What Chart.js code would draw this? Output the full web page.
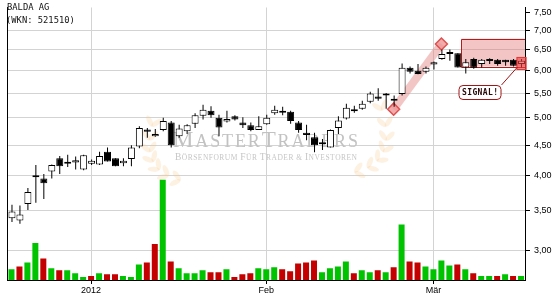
<!DOCTYPE html>
<html>
<head>
<meta charset="utf-8">
<script src="https://cdn.jsdelivr.net/npm/chart.js@4.4.1/dist/chart.umd.min.js"></script>
<style>
  html, body { margin: 0; padding: 0; background: #fff; }
  canvas { display: block; }
</style>
</head>
<body>
<canvas id="chart" width="555" height="300"></canvas>
<script>
// Tageskerzen BALDA AG, Mitte Dez 2011 bis Mitte Mär 2012
const eroeffnung = [3.40, 3.37, 3.59, 4.00, 3.96, 4.07, 4.28, 4.19, 4.21, 4.10, 4.19, 4.18, 4.39, 4.28, 4.20, 4.27,
  4.48, 4.78, 4.66, 4.77, 4.91, 4.66, 4.75, 4.89, 5.04, 5.14, 5.00, 4.93, 5.03, 4.91, 4.86, 4.77,
  4.88, 5.09, 5.14, 5.12, 4.91, 4.72, 4.64, 4.52, 4.46, 4.81, 4.99, 5.16, 5.18, 5.32, 5.43, 5.45,
  5.35, 5.48, 6.06, 5.99, 5.97, 6.14, 6.27, 6.42, 6.41, 6.07, 6.27, 6.15, 6.22, 6.25, 6.25, 6.25, 6.15];
const hoch = [3.58, 3.57, 3.82, 4.17, 4.03, 4.18, 4.32, 4.34, 4.31, 4.34, 4.26, 4.39, 4.46, 4.28, 4.28, 4.50,
  4.84, 4.81, 4.79, 5.00, 4.94, 4.87, 4.88, 5.09, 5.26, 5.23, 5.06, 5.14, 5.05, 5.01, 4.91, 5.03,
  5.06, 5.24, 5.22, 5.14, 4.94, 4.87, 4.72, 4.61, 4.78, 5.03, 5.28, 5.24, 5.34, 5.53, 5.60, 5.50,
  5.45, 6.16, 6.09, 6.15, 6.09, 6.21, 6.50, 6.50, 6.41, 6.27, 6.30, 6.27, 6.29, 6.27, 6.25, 6.27, 6.27];
const tief = [3.35, 3.33, 3.51, 3.61, 3.66, 3.96, 4.03, 4.14, 4.10, 4.09, 4.17, 4.17, 4.23, 4.15, 4.15, 4.15,
  4.45, 4.63, 4.65, 4.75, 4.46, 4.63, 4.70, 4.81, 4.97, 5.00, 4.66, 4.91, 4.95, 4.81, 4.75, 4.77,
  4.87, 5.06, 5.05, 4.89, 4.72, 4.59, 4.38, 4.42, 4.46, 4.70, 4.97, 5.10, 5.16, 5.29, 5.34, 5.18,
  5.22, 5.45, 5.93, 5.91, 5.93, 6.02, 6.25, 6.23, 6.07, 5.93, 6.04, 6.07, 6.15, 6.11, 6.11, 6.09, 6.07];
const schluss = [3.49, 3.45, 3.76, 3.98, 3.89, 4.17, 4.15, 4.20, 4.25, 4.33, 4.24, 4.32, 4.23, 4.15, 4.24, 4.46,
  4.81, 4.74, 4.70, 4.94, 4.50, 4.80, 4.86, 5.05, 5.16, 5.05, 4.82, 4.98, 4.97, 4.86, 4.77, 4.84,
  5.00, 5.16, 5.10, 4.94, 4.77, 4.68, 4.50, 4.53, 4.77, 4.95, 5.20, 5.13, 5.28, 5.49, 5.38, 5.49,
  5.34, 6.06, 5.97, 5.92, 6.06, 6.19, 6.39, 6.39, 6.07, 6.19, 6.06, 6.25, 6.23, 6.15, 6.19, 6.11, 6.23];
// Umsatz in Tsd. Stück, Richtung 1 = grün, -1 = rot
const volumen = [44, 56, 72, 152, 88, 48, 40, 40, 28, 12, 16, 28, 24, 24, 16, 12, 64, 72, 148, 412, 76, 48,
  28, 28, 40, 32, 32, 44, 12, 24, 28, 48, 44, 52, 44, 36, 68, 72, 80, 32, 48, 56, 76, 28, 40, 32,
  40, 32, 52, 228, 76, 72, 56, 44, 80, 60, 64, 44, 28, 16, 16, 16, 24, 16, 16];
const volRichtung = [1, -1, 1, 1, -1, 1, -1, 1, 1, 1, -1, 1, -1, -1, 1, 1, 1, -1, -1, 1, -1, 1,
  1, 1, 1, -1, -1, 1, -1, -1, -1, 1, 1, 1, -1, -1, -1, -1, -1, 1, 1, 1, 1, -1, 1, 1,
  -1, 1, -1, 1, -1, -1, 1, 1, 1, 1, -1, 1, -1, 1, 1, -1, 1, -1, 1];

const yTicks = [3, 3.5, 4, 4.5, 5, 5.5, 6, 6.5, 7, 7.5];
const xTickPos = [10, 32, 53];
const xTickLabels = ['2012', 'Feb', 'Mär'];

// Markierungen
const trendPunkte = [{ x: 48, y: 5.17 }, { x: 54, y: 6.64 }];
const zone = { von: 56.5, bis: 64.5, unten: 6.09, oben: 6.78 };
const signalKerze = 64;

const koerper = eroeffnung.map((o, i) => ({ x: i, y: [o, schluss[i]] }));
const dochte = hoch.map((h, i) => ({ x: i, y: [tief[i], h] }));
const umsatz = volumen.map((v, i) => ({ x: i, y: v }));

function kapitaelchen(ctx, teile, x, y, zielBreite, gross, klein) {
  const zeichen = [];
  teile.forEach(([t, g]) => { for (const c of t) zeichen.push([c, g]); });
  let breite = 0;
  zeichen.forEach(([c, g]) => { ctx.font = g ? gross : klein; breite += ctx.measureText(c).width; });
  const abstand = (zielBreite - breite) / (zeichen.length - 1);
  let cx = x;
  zeichen.forEach(([c, g]) => {
    ctx.font = g ? gross : klein;
    ctx.fillText(c, cx, y);
    cx += ctx.measureText(c).width + abstand;
  });
}

function zweig(ctx, p0, p1, p2, n) {
  for (let k = 0; k <= n; k++) {
    const t = k / n;
    const bx = (1 - t) * (1 - t) * p0[0] + 2 * (1 - t) * t * p1[0] + t * t * p2[0];
    const by = (1 - t) * (1 - t) * p0[1] + 2 * (1 - t) * t * p1[1] + t * t * p2[1];
    const tx = 2 * (1 - t) * (p1[0] - p0[0]) + 2 * t * (p2[0] - p1[0]);
    const ty = 2 * (1 - t) * (p1[1] - p0[1]) + 2 * t * (p2[1] - p1[1]);
    const w = Math.atan2(ty, tx);
    [-1, 1].forEach(s => {
      const a = w + s * 0.7;
      ctx.beginPath();
      ctx.ellipse(bx + Math.cos(a) * 5.5, by + Math.sin(a) * 5.5, 6, 2.6, a, 0, Math.PI * 2);
      ctx.fill();
    });
  }
}

const wasserzeichen = {
  id: 'wasserzeichen',
  beforeDatasetsDraw(chart) {
    const { ctx, scales: { x, y } } = chart;
    ctx.save();
    // Lorbeer
    ctx.fillStyle = 'rgba(246,200,140,0.25)';
    zweig(ctx, [180, 180], [140, 170], [152, 126], 6);
    zweig(ctx, [355, 172], [398, 162], [382, 110], 6);
    // Schriftzug
    ctx.fillStyle = '#c2c2c2';
    ctx.textBaseline = 'alphabetic';
    kapitaelchen(ctx, [['M', 1], ['ASTER', 0], ['T', 1], ['RADERS', 0]], 173, 147, 185,
      '23px "Liberation Serif"', '18px "Liberation Serif"');
    ctx.fillStyle = '#c6c6c6';
    kapitaelchen(ctx, [['B', 1], ['ÖRSENFORUM ', 0], ['F', 1], ['ÜR ', 0], ['T', 1], ['RADER & ', 0], ['I', 1], ['NVESTOREN', 0]],
      175, 160, 182, '9.5px "Liberation Serif"', '7.5px "Liberation Serif"');

    // Widerstandszone
    const x0 = x.getPixelForValue(zone.von), x1 = x.getPixelForValue(zone.bis);
    const y0 = y.getPixelForValue(zone.oben), y1 = y.getPixelForValue(zone.unten);
    ctx.fillStyle = 'rgba(225,110,110,0.4)';
    ctx.fillRect(x0, y0, x1 - x0, y1 - y0);
    ctx.strokeStyle = '#b41c1c';
    ctx.lineWidth = 1;
    ctx.beginPath();
    ctx.moveTo(x1, Math.round(y0) + 0.5);
    ctx.lineTo(Math.round(x0) + 0.5, Math.round(y0) + 0.5);
    ctx.lineTo(Math.round(x0) + 0.5, Math.round(y1) + 0.5);
    ctx.lineTo(x1, Math.round(y1) + 0.5);
    ctx.stroke();
    ctx.restore();
  },
  afterDatasetsDraw(chart) {
    const { ctx, scales: { xc, y } } = chart;
    ctx.save();
    // Signal-Kerze
    const cx = xc.getPixelForValue(signalKerze);
    const sy0 = y.getPixelForValue(hoch[signalKerze]) - 2;
    const sy1 = y.getPixelForValue(tief[signalKerze]) + 2.6;
    ctx.fillStyle = 'rgba(236,64,64,0.62)';
    ctx.fillRect(cx - 5, sy0, 10, sy1 - sy0);
    ctx.strokeStyle = '#e03a3a';
    ctx.strokeRect(cx - 4.5, sy0 + 0.5, 9, sy1 - sy0 - 1);
    // Verbindungslinie + Beschriftung
    const lx1 = cx - 20, ly0 = sy1 + 15;
    ctx.strokeStyle = '#a01414';
    ctx.lineWidth = 1;
    ctx.beginPath();
    ctx.moveTo(cx - 4, sy1 - 3);
    ctx.lineTo(lx1, ly0);
    ctx.stroke();
    ctx.beginPath();
    ctx.roundRect(lx1 - 42.5, ly0 + 0.5, 42, 14, 4);
    ctx.fillStyle = '#fff';
    ctx.fill();
    ctx.stroke();
    ctx.fillStyle = '#2a0808';
    ctx.font = 'bold 8px "DejaVu Sans Mono"';
    ctx.letterSpacing = '0.4px';
    ctx.textAlign = 'center';
    ctx.textBaseline = 'middle';
    ctx.fillText('SIGNAL!', lx1 - 21.3, ly0 + 7.8);
    ctx.restore();
  },
  afterDraw(chart) {
    const { ctx } = chart;
    ctx.save();
    ctx.fillStyle = '#111';
    ctx.font = '8.8px "DejaVu Sans Mono"';
    ctx.textBaseline = 'top';
    ctx.fillText('BALDA AG', 7, 3);
    ctx.fillText('(WKN: 521510)', 6, 16);
    ctx.restore();
  }
};

const achsenSchrift = { family: 'Liberation Sans', size: 9 };

new Chart(document.getElementById('chart'), {
  type: 'bar',
  data: {
    datasets: [
      {
        type: 'bar', label: 'Körper', xAxisID: 'xc', yAxisID: 'y', data: koerper,
        backgroundColor: c => (schluss[c.dataIndex] >= eroeffnung[c.dataIndex] ? '#ffffff' : '#000000'),
        borderColor: '#000', borderWidth: 1, borderSkipped: false, barThickness: 7,
        minBarLength: 2, grouped: false, inflateAmount: 0, order: 1
      },
      {
        type: 'bar', label: 'Docht', xAxisID: 'xc', yAxisID: 'y', data: dochte,
        backgroundColor: '#000', borderWidth: 0, barThickness: 1, grouped: false, inflateAmount: 0, order: 2
      },
      {
        type: 'line', label: 'Trend', xAxisID: 'x', yAxisID: 'y', data: trendPunkte,
        borderColor: 'rgba(228,128,128,0.45)', borderWidth: 8, borderCapStyle: 'butt',
        pointStyle: 'rectRot', pointRadius: 6, pointBorderWidth: 1.5,
        pointBackgroundColor: 'rgba(238,150,150,0.8)', pointBorderColor: '#e05050', order: 3
      },
      {
        type: 'bar', label: 'Volumen', xAxisID: 'x', yAxisID: 'yv', data: umsatz,
        backgroundColor: c => (volRichtung[c.dataIndex] > 0 ? '#00c300' : '#c40000'),
        borderWidth: 0, barThickness: 6, grouped: false, inflateAmount: 0, order: 4
      }
    ]
  },
  options: {
    responsive: false,
    animation: false,
    devicePixelRatio: 1,
    layout: { padding: 0 },
    plugins: { legend: { display: false }, tooltip: { enabled: false } },
    scales: {
      x: {
        type: 'linear', position: 'bottom', min: -0.5, max: 64.5, offset: false,
        afterBuildTicks: s => { s.ticks = xTickPos.map(v => ({ value: v })); },
        afterFit: s => { s.height = 20; s.paddingLeft = 0; s.paddingRight = 0; },
        ticks: {
          callback: v => xTickLabels[xTickPos.indexOf(v)], autoSkip: false, maxRotation: 0,
          padding: 1, color: '#000', font: achsenSchrift
        },
        grid: { color: '#d3d3d3', tickColor: '#000', tickLength: 4, offset: false },
        border: { color: '#000', width: 1 }
      },
      xc: {
        type: 'linear', display: false, min: -0.5625, max: 64.4375, offset: false,
        grid: { offset: false }
      },
      y: {
        type: 'logarithmic', position: 'right', min: 2.6816, max: 7.641, beginAtZero: false,
        afterBuildTicks: s => { s.ticks = yTicks.map(v => ({ value: v })); },
        afterFit: s => { s.width = 30; s.paddingTop = 0; s.paddingBottom = 0; },
        ticks: {
          callback: v => v.toFixed(2).replace('.', ','), padding: 4, color: '#000', font: achsenSchrift
        },
        grid: {
          color: c => (c.tick && c.tick.value === 7.5 ? 'rgba(0,0,0,0)' : '#d3d3d3'),
          tickColor: '#000', tickLength: 5
        },
        border: { color: '#000', width: 1 }
      },
      yv: {
        type: 'linear', position: 'left', min: 0, max: 1120, beginAtZero: true,
        ticks: { display: false },
        grid: { display: false, drawTicks: false },
        afterFit: s => { s.width = 5; s.paddingTop = 0; s.paddingBottom = 0; },
        border: { color: '#000', width: 1 }
      }
    }
  },
  plugins: [wasserzeichen]
});
</script>
</body>
</html>
